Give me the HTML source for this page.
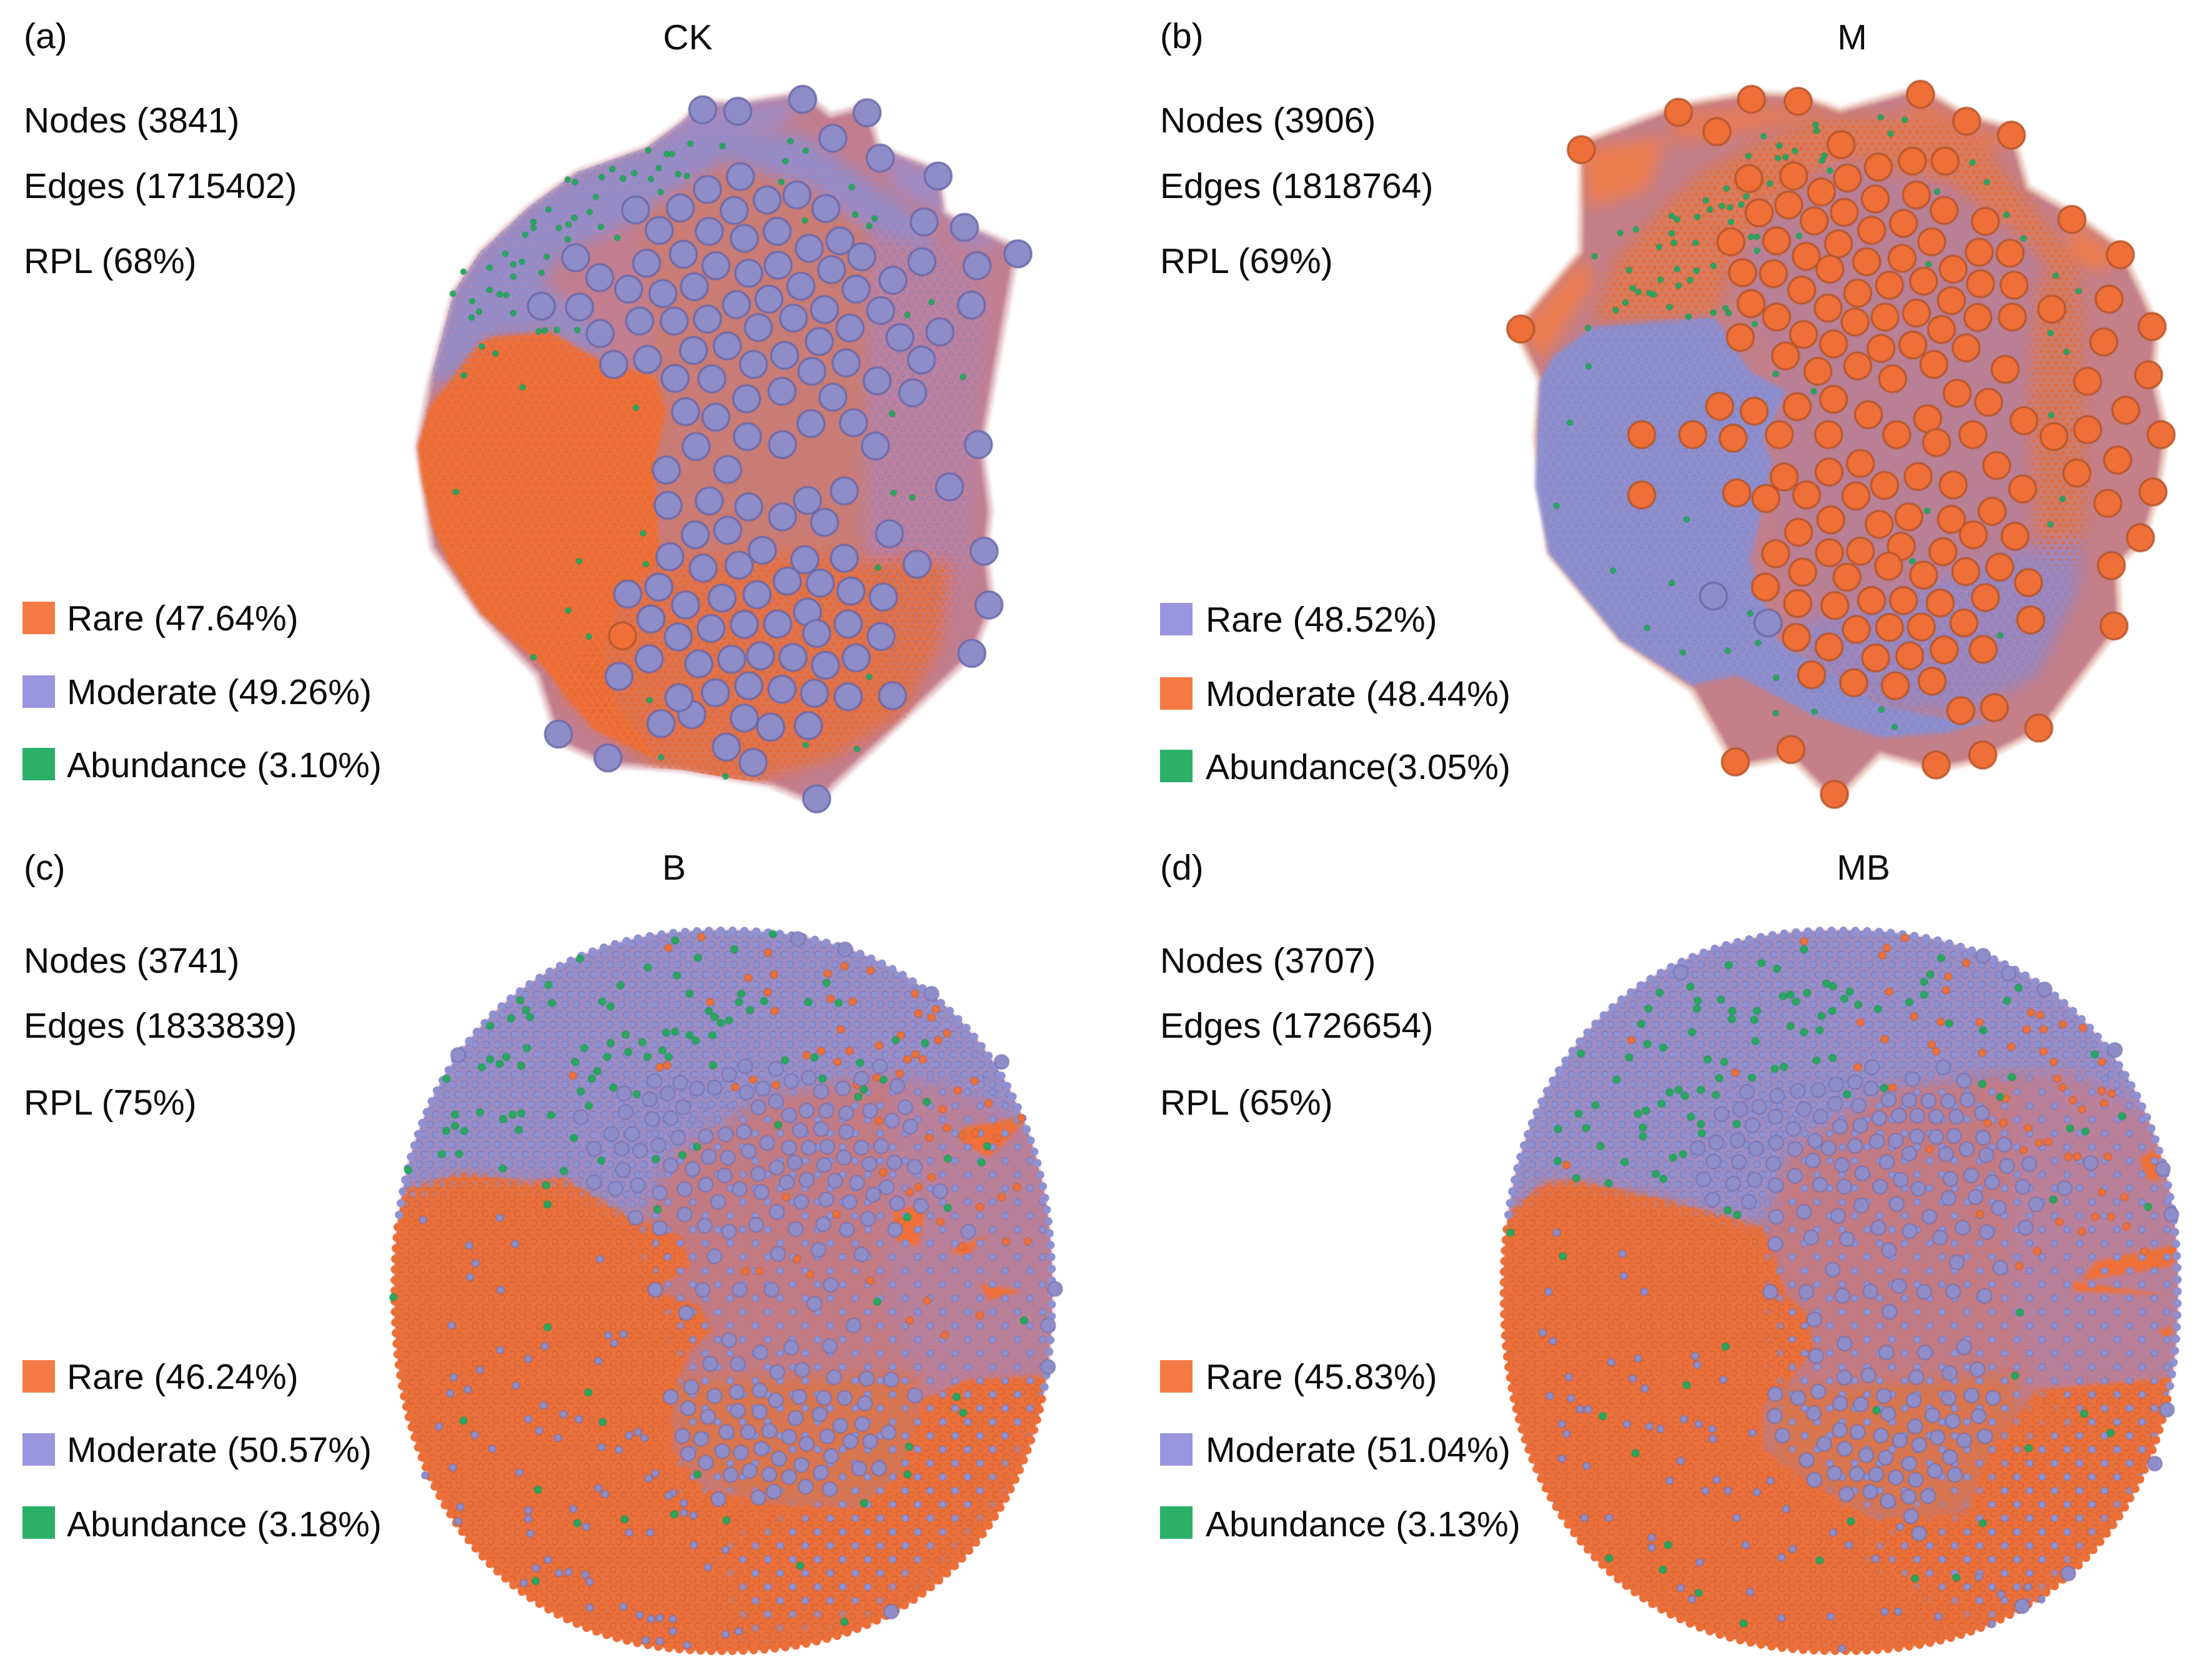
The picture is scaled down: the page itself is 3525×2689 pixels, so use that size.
<!DOCTYPE html>
<html lang="en">
<head>
<meta charset="utf-8">
<title>Co-occurrence networks CK, M, B, MB</title>
<style>
html,body{margin:0;padding:0;background:#fff;}
svg{display:block;}
text{font-family:"Liberation Sans",Arial,sans-serif;font-size:57px;fill:#0c0c0c;}
.rare{fill:#ee7038;stroke:#b6552a;}
.moderate{fill:#8f8dc8;stroke:#6a67a8;}
.abundant{fill:#26a95f;stroke:#1f8f50;}
</style>
</head>
<body>
<svg id="figure" xmlns="http://www.w3.org/2000/svg" width="3525" height="2689" viewBox="0 0 3525 2689">
  <defs>
    <filter id="soft" x="-5%" y="-5%" width="110%" height="110%"><feGaussianBlur stdDeviation="3"/></filter>
    <filter id="softWide" x="-10%" y="-10%" width="120%" height="120%"><feGaussianBlur stdDeviation="12"/></filter>
    <filter id="softMask" x="-10%" y="-10%" width="120%" height="120%"><feGaussianBlur stdDeviation="14"/></filter>
    <filter id="softer" x="-5%" y="-5%" width="110%" height="110%"><feGaussianBlur stdDeviation="0.7"/></filter>
    <pattern id="pat-mod" width="18" height="32" patternUnits="userSpaceOnUse">
      <circle cx="4.5" cy="8" r="5.6" fill="#8f91d0" stroke="#7d7cbc" stroke-width="1.2"/>
      <circle cx="13.5" cy="24" r="5.6" fill="#8f91d0" stroke="#7d7cbc" stroke-width="1.2"/>
    </pattern>
    <pattern id="pat-mod-sparse" width="40" height="44" patternUnits="userSpaceOnUse">
      <circle cx="9" cy="10" r="5.4" fill="#8f91d0" stroke="#7d7cbc" stroke-width="1.2"/>
      <circle cx="29" cy="32" r="5.4" fill="#8f91d0" stroke="#7d7cbc" stroke-width="1.2"/>
    </pattern>
    <pattern id="pat-rare" width="17" height="30" patternUnits="userSpaceOnUse">
      <circle cx="4.2" cy="7.5" r="5" fill="none" stroke="#c95c30" stroke-width="1.3" opacity="0.75"/>
      <circle cx="12.7" cy="22.5" r="5" fill="none" stroke="#c95c30" stroke-width="1.3" opacity="0.75"/>
    </pattern>
    <pattern id="pat-mod-fine" width="12" height="18" patternUnits="userSpaceOnUse">
      <circle cx="3" cy="4.5" r="2.6" fill="#8a8ccf"/>
      <circle cx="9" cy="13.5" r="2.6" fill="#8a8ccf"/>
    </pattern>
    <pattern id="pat-rare-fine" width="12" height="18" patternUnits="userSpaceOnUse">
      <circle cx="3" cy="4.5" r="2.4" fill="#e8682f"/>
      <circle cx="9" cy="13.5" r="2.4" fill="#e8682f"/>
    </pattern>
    <pattern id="pat-mod-ring" width="14" height="22" patternUnits="userSpaceOnUse">
      <circle cx="3.5" cy="5.5" r="3.2" fill="none" stroke="#7775b5" stroke-width="1" opacity="0.6"/>
      <circle cx="10.5" cy="16.5" r="3.2" fill="none" stroke="#7775b5" stroke-width="1" opacity="0.6"/>
    </pattern>
    <pattern id="pat-rare-ring" width="14" height="22" patternUnits="userSpaceOnUse">
      <circle cx="3.5" cy="5.5" r="3.2" fill="none" stroke="#c65a2e" stroke-width="1" opacity="0.6"/>
      <circle cx="10.5" cy="16.5" r="3.2" fill="none" stroke="#c65a2e" stroke-width="1" opacity="0.6"/>
    </pattern>
  </defs>

  <rect width="3525" height="2689" fill="#ffffff"/>

  <g id="net-a"></g>
  <g id="net-b"></g>
  <g id="net-c"></g>
  <g id="net-d"></g>

  <g>
    <text x="38" y="77">(a)</text>
    <text x="1101" y="79" text-anchor="middle">CK</text>
    <text x="38" y="212">Nodes (3841)</text>
    <text x="38" y="317">Edges (1715402)</text>
    <text x="38" y="437">RPL (68%)</text>
    <rect x="36" y="963" width="52" height="52" fill="#f47a45"/>
    <text x="107" y="1009">Rare (47.64%)</text>
    <rect x="36" y="1081" width="52" height="52" fill="#9b94de"/>
    <text x="107" y="1127">Moderate (49.26%)</text>
    <rect x="36" y="1197" width="52" height="52" fill="#2cb069"/>
    <text x="107" y="1244">Abundance (3.10%)</text>
  </g>

  <g>
    <text x="1857" y="77">(b)</text>
    <text x="2965" y="79" text-anchor="middle">M</text>
    <text x="1857" y="212">Nodes (3906)</text>
    <text x="1857" y="317">Edges (1818764)</text>
    <text x="1857" y="437">RPL (69%)</text>
    <rect x="1857" y="965" width="52" height="52" fill="#9b94de"/>
    <text x="1930" y="1011">Rare (48.52%)</text>
    <rect x="1857" y="1084" width="52" height="52" fill="#f47a45"/>
    <text x="1930" y="1130">Moderate (48.44%)</text>
    <rect x="1857" y="1200" width="52" height="52" fill="#2cb069"/>
    <text x="1930" y="1247">Abundance(3.05%)</text>
  </g>

  <g>
    <text x="38" y="1408">(c)</text>
    <text x="1079" y="1408" text-anchor="middle">B</text>
    <text x="38" y="1557">Nodes (3741)</text>
    <text x="38" y="1661">Edges (1833839)</text>
    <text x="38" y="1784">RPL (75%)</text>
    <rect x="36" y="2177" width="52" height="52" fill="#f47a45"/>
    <text x="107" y="2223">Rare (46.24%)</text>
    <rect x="36" y="2294" width="52" height="52" fill="#9b94de"/>
    <text x="107" y="2340">Moderate (50.57%)</text>
    <rect x="36" y="2411" width="52" height="52" fill="#2cb069"/>
    <text x="107" y="2459">Abundance (3.18%)</text>
  </g>

  <g>
    <text x="1857" y="1408">(d)</text>
    <text x="2983" y="1408" text-anchor="middle">MB</text>
    <text x="1857" y="1557">Nodes (3707)</text>
    <text x="1857" y="1661">Edges (1726654)</text>
    <text x="1857" y="1784">RPL (65%)</text>
    <rect x="1857" y="2177" width="52" height="52" fill="#f47a45"/>
    <text x="1930" y="2223">Rare (45.83%)</text>
    <rect x="1857" y="2294" width="52" height="52" fill="#9b94de"/>
    <text x="1930" y="2340">Moderate (51.04%)</text>
    <rect x="1857" y="2411" width="52" height="52" fill="#2cb069"/>
    <text x="1930" y="2459">Abundance (3.13%)</text>
  </g>
</svg>

<script>

/* ---------- CK ---------- */
const ckHull = [[700,118],[748,78],[828,82],[976,60],[1040,105],[1123,85],[1150,170],[1285,215],[1300,300],[1345,325],[1467,370],[1420,600],[1385,770],[1405,900],[1395,980],[1410,1090],[1362,1190],[1230,1300],[1050,1450],[1008,1490],[900,1450],[700,1420],[532,1410],[419,1365],[370,1230],[240,1110],[160,1010],[130,975],[97,770],[125,640],[180,460],[240,380],[350,290],[460,220],[620,170]];
const ckCoreZone = [[600,240],[900,180],[1200,340],[1330,500],[1360,800],[1300,1000],[1000,1000],[640,1000],[640,620]];
const ckPurpleZone = [[125,640],[180,460],[240,380],[350,290],[460,220],[620,170],[800,130],[980,150],[1210,290],[1290,380],[1120,330],[1000,250],[800,195],[660,270],[560,330],[430,380],[380,440],[500,530],[520,600],[400,540],[270,550],[170,640]];
const ckPurpleEdgeZone = [[700,118],[748,85],[828,88],[976,70],[920,130],[800,130],[620,170]];
const ckPurpleEdgeZone2 = [[1150,170],[1285,225],[1300,310],[1190,255]];
const ckPurpleEdgeZone3 = [[1300,300],[1345,325],[1440,372],[1340,370]];
const ckMixedZone = [[1130,300],[1300,370],[1400,480],[1370,760],[1360,1000],[1300,1150],[1210,1280],[1120,1100],[1120,800]];
const ckLowerZone = [[640,1000],[1000,980],[1100,1000],[1240,990],[1320,1010],[1290,1170],[1200,1310],[1050,1395],[820,1455],[640,1410],[420,1270],[530,1100]];
const ckRareZone = [[97,770],[125,690],[170,640],[240,560],[270,550],[400,540],[520,600],[640,630],[665,700],[640,800],[650,1000],[560,1080],[520,1180],[550,1290],[650,1400],[500,1340],[380,1210],[240,1105],[165,1000],[130,930],[105,830]];
const ckHubs = [[748,95],[828,98],[976,74],[1123,101],[1045,152],[1153,192],[1285,228],[1253,320],[1345,331],[1467,384],[1374,408],[1248,400],[1361,487],[1182,437],[1154,498],[1289,541],[1198,552],[1247,597],[1227,663],[1146,639],[1142,770],[1092,723],[1377,767],[1311,852],[1390,981],[1401,1089],[1362,1186],[1181,1271],[1155,1152],[1160,1073],[1237,1007],[1174,946],[1071,860],[834,229],[759,255],[895,276],[963,266],[1029,293],[595,296],[697,292],[820,297],[649,337],[763,339],[843,353],[918,339],[1061,358],[991,373],[1111,390],[458,392],[704,385],[620,403],[778,408],[853,423],[920,407],[1042,416],[513,432],[579,455],[729,450],[657,464],[972,449],[1098,455],[380,489],[467,491],[825,486],[899,475],[1026,496],[604,519],[683,519],[759,515],[955,513],[875,532],[1084,533],[514,544],[727,578],[804,569],[1014,560],[545,606],[622,596],[864,606],[935,588],[1075,603],[997,620],[685,634],[769,635],[929,660],[848,675],[1045,672],[709,701],[778,712],[850,751],[930,767],[995,725],[733,771],[665,818],[805,817],[669,889],[763,880],[853,892],[987,879],[930,912],[1026,923],[731,948],[805,939],[884,979],[673,992],[749,1015],[831,1009],[981,998],[1071,995],[941,1041],[1016,1045],[1086,1061],[648,1053],[577,1067],[709,1089],[792,1075],[872,1068],[987,1103],[630,1117],[767,1136],[843,1128],[919,1127],[1008,1146],[1080,1127],[692,1153],[626,1197],[739,1207],[814,1198],[880,1191],[954,1194],[1028,1210],[1098,1195],[557,1232],[853,1251],[929,1258],[1003,1266],[1080,1273],[723,1309],[694,1275],[777,1265],[653,1327],[843,1316],[903,1334],[989,1331],[802,1374],[863,1405],[419,1348],[532,1396],[1008,1478]];
const ckHubsOther = [[565,1151]];
const ckAbundant = [[624,176],[666,184],[678,184],[720,163],[793,168],[948,158],[983,177],[518,230],[542,214],[566,233],[592,222],[630,234],[648,212],[692,224],[712,228],[937,198],[927,240],[1088,250],[440,235],[457,240],[504,270],[652,260],[396,295],[490,300],[455,312],[362,320],[362,332],[420,332],[442,325],[516,330],[343,346],[440,355],[553,352],[392,390],[298,384],[336,400],[262,412],[316,405],[316,430],[380,422],[202,420],[178,464],[262,457],[285,465],[300,467],[222,479],[238,500],[316,503],[221,512],[374,540],[388,538],[415,537],[462,537],[244,570],[275,584],[203,628],[337,652],[596,693],[185,862],[612,945],[466,1001],[618,1007],[441,1100],[488,1152],[362,1194],[627,1280],[653,1395],[800,1433],[983,1370],[1100,1378],[1128,1233],[1148,1014],[1183,864],[1226,873],[1180,705],[1342,631],[1215,507],[1270,481],[981,317],[1096,305],[1140,313],[1128,328]];

/* ---------- M ---------- */
const mHull = [[183,160],[400,85],[563,60],[667,65],[760,95],[940,50],[1043,105],[1143,130],[1180,250],[1278,300],[1386,370],[1470,530],[1460,630],[1490,747],[1470,862],[1440,955],[1380,1010],[1385,1131],[1215,1336],[1079,1400],[975,1420],[850,1390],[748,1485],[651,1395],[527,1415],[430,1260],[270,1160],[110,985],[80,750],[90,640],[35,535],[180,380]];
const mCoreZone = [[480,330],[760,160],[1100,220],[1280,450],[1310,900],[1250,1150],[1000,1260],[700,1200],[620,1000],[620,620]];
const mRareTopZone = [[210,520],[260,400],[380,280],[460,220],[560,170],[700,120],[800,110],[950,110],[1070,160],[1180,280],[1280,400],[1300,500],[1180,360],[1000,240],[760,190],[600,290],[520,400],[480,510]];
const mRareRightZone = [[1280,400],[1300,500],[1310,900],[1290,1010],[1200,1000],[1180,700],[1200,440]];
const mPurpleZone = [[90,640],[120,590],[210,530],[480,510],[560,620],[640,660],[590,760],[610,800],[560,1000],[620,1160],[750,1230],[850,1290],[1020,1320],[1100,1320],[1000,1345],[850,1355],[700,1310],[530,1230],[430,1250],[270,1160],[110,985],[80,850]];
const mLowerMixZone = [[1000,1030],[1200,970],[1300,960],[1290,1060],[1200,1230],[1050,1300],[850,1300],[700,1210],[650,1130],[800,1100]];
const mWedgeA = [[183,175],[370,150],[330,255],[200,290]];
const mWedgeB = [[48,535],[190,390],[210,440],[95,600]];
const mWedgeC = [[400,100],[563,85],[667,90],[760,100],[640,125],[500,150],[380,160]];
const mWedgeD = [[1278,320],[1386,390],[1340,420],[1270,395]];
const mWedgeE = [[940,70],[1043,125],[1143,150],[1100,180],[900,110]];
const mHubs = [[183,175],[400,100],[563,74],[667,78],[940,64],[1043,118],[1143,146],[486,139],[763,165],[557,233],[657,228],[777,232],[846,210],[922,198],[995,198],[719,260],[839,274],[931,266],[646,286],[580,302],[770,301],[993,297],[703,318],[902,323],[1085,319],[1278,315],[517,360],[619,358],[831,337],[965,360],[757,364],[1386,386],[685,389],[1071,381],[1140,383],[543,422],[820,400],[899,393],[612,424],[738,415],[1013,415],[947,439],[871,447],[1074,444],[1149,447],[675,457],[800,463],[1361,475],[562,484],[734,493],[1009,478],[1233,495],[619,511],[794,521],[861,511],[931,503],[1068,512],[1145,511],[1457,530],[48,535],[538,552],[679,546],[987,536],[746,565],[852,574],[923,567],[1042,573],[1349,561],[639,589],[711,620],[800,609],[970,606],[878,635],[1129,616],[1449,627],[1313,640],[1022,664],[1092,682],[746,676],[665,691],[492,690],[569,700],[824,707],[956,715],[1171,719],[1398,698],[318,747],[432,747],[522,754],[625,747],[735,747],[887,747],[976,763],[1057,747],[1238,751],[1313,737],[1477,747],[806,805],[1380,798],[636,832],[736,822],[935,831],[1110,809],[1289,824],[860,849],[1013,848],[1168,856],[318,868],[530,864],[595,875],[686,868],[796,870],[1459,862],[1358,885],[914,912],[740,918],[848,927],[1009,917],[1100,901],[668,943],[1058,948],[1151,951],[1431,954],[617,986],[737,984],[806,981],[897,971],[990,982],[869,1011],[677,1023],[776,1033],[947,1029],[1041,1022],[1117,1013],[1366,1010],[594,1053],[1181,1044],[666,1086],[749,1090],[831,1080],[902,1080],[984,1085],[1085,1074],[797,1138],[871,1134],[942,1133],[1037,1125],[1186,1119],[1372,1131],[663,1154],[736,1173],[840,1195],[916,1191],[993,1179],[1080,1178],[697,1229],[791,1245],[884,1251],[966,1242],[1030,1301],[1105,1295],[1204,1336],[651,1379],[527,1404],[975,1410],[1079,1390],[748,1469]];
const mHubsOther = [[478,1071],[600,1125]];
const mAbundant = [[851,110],[905,115],[706,125],[708,137],[590,148],[873,143],[625,167],[622,192],[660,178],[556,188],[639,190],[725,187],[720,197],[1056,201],[604,243],[738,217],[507,253],[1088,240],[977,259],[551,269],[461,277],[470,295],[497,288],[515,291],[540,285],[1132,306],[270,342],[305,335],[385,308],[397,315],[442,310],[517,320],[385,343],[669,348],[1170,353],[562,350],[575,350],[357,370],[390,362],[438,362],[575,378],[213,389],[478,408],[440,418],[397,415],[290,417],[1242,428],[958,405],[360,436],[400,448],[426,437],[298,453],[310,461],[335,463],[345,466],[1293,459],[282,482],[260,497],[380,491],[422,510],[478,502],[505,493],[512,503],[570,525],[198,533],[1230,543],[1266,581],[199,610],[617,625],[702,660],[1232,708],[158,723],[128,890],[418,917],[955,900],[1257,876],[1230,927],[922,1001],[254,1020],[385,1045],[330,1135],[560,1106],[410,1184],[510,1181],[578,1165],[618,1235],[1118,1150],[617,1306],[703,1303],[853,1299],[882,1334]];

/* ---------- B ---------- */
const bEllipse = [795,780,750,730];
const bPurpleZone = [[0,620],[200,545],[350,560],[430,560],[520,600],[600,640],[680,500],[900,380],[1150,340],[1300,360],[1568,470],[1568,0],[0,0]];
const bRightZone = [[1180,350],[1450,320],[1568,560],[1568,950],[1450,1080],[1250,1000],[1160,800]];
const bCoreZone = [[620,400],[1200,350],[1300,900],[1100,1200],[700,1180],[700,900],[600,650]];
const bLowerCoreZone = [[680,960],[1250,950],[1230,1130],[1100,1220],[850,1205],[700,1120]];
const bRareZone = [[0,590],[200,540],[350,560],[430,550],[560,620],[700,670],[720,730],[640,780],[740,810],[770,860],[720,900],[680,990],[680,1100],[750,1180],[900,1210],[1100,1220],[1200,1150],[1250,1000],[1350,960],[1568,950],[1568,1568],[0,1568]];
const bLowerRightZone = [[1000,1220],[1250,1000],[1540,950],[1400,1220],[1150,1420],[850,1480],[800,1300]];
const bStreakA = [[1340,450],[1490,425],[1450,470],[1400,510],[1340,480]];
const bStreakB = [[1310,700],[1400,665],[1350,710]];
const bStreakC = [[1380,765],[1475,780],[1400,800]];
const bStreakD = [[1180,620],[1260,600],[1240,690],[1190,680]];
const bModerateLarge = [[638,355],[697,358],[775,368],[808,342],[845,325],[915,330],[950,355],[990,348],[735,370],[668,380],[627,392],[569,380],[703,408],[572,418],[633,432],[675,430],[470,428],[875,408],[915,396],[848,378],[885,370],[1018,376],[1068,370],[1110,350],[1152,325],[1192,365],[1130,415],[1075,420],[1030,415],[985,415],[945,424],[1210,408],[1180,435],[1222,447],[1075,458],[1018,452],[970,455],[895,480],[842,458],[800,463],[755,467],[692,470],[647,485],[605,496],[587,462],[540,462],[500,492],[563,492],[675,526],[725,533],[762,508],[805,510],[853,497],[945,490],[990,490],[1032,488],[1110,490],[1155,487],[1070,510],[1185,520],[1128,523],[1025,525],[958,520],[917,530],[875,543],[798,546],[755,565],[707,574],[650,582],[600,566],[566,535],[549,573],[500,560],[940,560],[985,555],[1050,557],[1100,561],[1168,570],[1232,529],[1290,578],[832,574],[882,580],[1030,595],[973,600],[783,600],[1083,600],[1137,585],[1192,603],[1246,608],[917,620],[707,625],[595,632],[650,653],[870,646],[808,660],[753,648],[960,655],[1023,645],[1077,656],[1125,634],[1187,656],[1354,660],[775,710],[920,705],[1012,697],[1110,706],[1040,768],[640,778],[748,778],[832,778],[905,778],[1003,806],[710,825],[1092,850],[808,880],[880,905],[950,895],[1038,892],[765,928],[828,928],[918,945],[975,940],[1048,955],[1122,958],[1178,960],[722,975],[775,993],[826,985],[878,982],[968,995],[1025,997],[1072,997],[675,995],[1118,1008],[1232,992],[715,1018],[760,1035],[828,1023],[878,1025],[915,1002],[960,1038],[1015,1030],[1062,1053],[1112,1050],[1172,1067],[702,1074],[744,1080],[802,1066],[852,1066],[900,1064],[945,1076],[985,1090],[1032,1075],[1085,1085],[1130,1085],[715,1110],[793,1105],[835,1108],[882,1100],[922,1120],[973,1133],[1041,1115],[1105,1140],[1150,1140],[755,1128],[855,1145],[900,1152],[812,1153],[945,1157],[1018,1148],[875,1199],[910,1187],[983,1177],[1038,1182],[784,1202],[1178,1430],[965,67],[1073,88],[1270,178],[1430,316],[190,302],[1552,776],[1536,850],[1536,934]];
const bModerateSmall = [[215,688],[320,685],[285,632],[230,724],[217,752],[514,716],[287,778],[110,636],[175,850],[388,892],[286,900],[240,940],[180,955],[212,980],[322,972],[172,988],[350,918],[510,922],[546,886],[567,868],[532,870],[385,1012],[430,1030],[350,1040],[465,1040],[146,1055],[228,1072],[268,1100],[375,1063],[418,1078],[517,1097],[557,1102],[580,1073],[600,1066],[615,1078],[178,1138],[115,1154],[330,1148],[510,1180],[525,1192],[625,1160],[640,1150],[350,1225],[350,1242],[453,1222],[482,1258],[355,1272],[628,1270],[580,1270],[195,1218],[190,1247],[395,1325],[442,1350],[480,1355],[420,1352],[490,1370],[368,1342],[340,1372],[490,1422],[567,1420],[604,1437],[650,1443],[680,1445],[630,1445],[618,1488],[650,1490],[712,1498],[680,1470],[800,1476],[830,1470],[760,1340],[800,1305],[728,1295],[705,1230],[705,1210],[727,1235],[680,1190],[670,1195]];
const bRareScatter = [[745,63],[670,85],[897,95],[1071,122],[1131,131],[1033,137],[911,139],[852,146],[765,195],[896,175],[1040,188],[1090,194],[912,213],[1232,178],[1280,209],[1270,226],[1240,218],[1063,250],[1305,258],[1285,272],[1200,262],[1150,283],[1018,294],[985,303],[1083,294],[1233,301],[1215,311],[1250,311],[650,327],[667,323],[452,344],[1055,316],[1145,348],[863,352],[822,367],[915,363],[1100,362],[1330,374],[1368,355],[1197,340],[1295,412],[1400,400],[1150,436],[1265,470],[1305,450],[1340,465],[1370,460],[1420,470],[1475,430],[1270,550],[1220,580],[1240,570],[1380,610],[1430,590],[1465,570],[1160,540],[1200,640],[1290,640],[1340,690],[1440,680],[1490,680],[1130,760],[1220,840],[1300,870],[1260,800],[1380,830],[938,590],[1053,625],[963,715],[993,747],[877,740],[845,740]];
const bAbundant = [[685,70],[908,57],[820,88],[737,105],[468,107],[623,125],[689,141],[1031,156],[396,160],[560,161],[718,178],[836,178],[519,194],[538,204],[332,191],[404,197],[831,195],[888,193],[989,195],[1058,197],[345,211],[354,225],[856,211],[762,213],[775,225],[789,237],[808,232],[263,243],[311,228],[665,257],[685,255],[718,262],[732,273],[770,262],[572,261],[538,278],[610,276],[347,288],[478,288],[1188,272],[1255,278],[578,296],[656,293],[670,306],[622,306],[300,306],[263,311],[285,320],[244,327],[334,324],[457,316],[530,306],[936,313],[1003,307],[1107,318],[772,323],[507,335],[495,350],[163,350],[1021,350],[1160,352],[544,368],[470,376],[1115,372],[1103,387],[597,382],[488,405],[1259,397],[183,423],[240,418],[334,420],[314,423],[293,432],[402,424],[328,454],[183,446],[163,456],[204,456],[454,470],[920,444],[735,488],[1397,487],[702,505],[153,503],[193,502],[517,516],[641,513],[1307,512],[1384,520],[292,532],[76,535],[431,537],[391,566],[394,605],[645,615],[1215,631],[1307,612],[42,793],[1146,802],[1481,840],[394,854],[487,986],[1327,995],[1342,1027],[202,1043],[520,1046],[1219,1096],[1215,1152],[736,1152],[372,1183],[1116,1210],[683,1233],[570,1243],[802,1245],[462,1251],[970,1337],[367,1368],[1071,1451]];

/* ---------- MB ---------- */
const dEllipse = [762,780,752,730];
const dPurpleZone = [[0,640],[100,560],[170,555],[350,590],[470,620],[590,650],[640,500],[850,370],[1100,340],[1280,330],[1568,480],[1568,0],[0,0]];
const dRightZone = [[1150,350],[1400,300],[1568,520],[1568,980],[1420,1100],[1200,980],[1130,800]];
const dCoreZone = [[600,380],[1150,340],[1270,800],[1100,1180],[850,1240],[640,1120],[620,900],[590,650]];
const dLowerCoreZone = [[600,980],[1150,950],[1150,1130],[1000,1240],[800,1230],[620,1130]];
const dRareZone = [[0,640],[100,560],[170,555],[350,590],[470,620],[590,650],[610,700],[640,790],[690,830],[700,900],[640,970],[590,1010],[590,1100],[680,1160],[830,1240],[1040,1230],[1100,1100],[1200,980],[1568,950],[1568,1568],[0,1568]];
const dLowerRightZone = [[1040,1240],[1150,1080],[1450,980],[1470,1130],[1300,1320],[1100,1460],[800,1300]];
const dStreakA = [[1430,510],[1480,485],[1470,560],[1440,550]];
const dStreakB = [[1330,720],[1520,685],[1500,730],[1300,760]];
const dStreakC = [[1280,760],[1500,790],[1280,780]];
const dStreakD = [[1470,860],[1510,850],[1490,880]];
const dModerateLarge = [[405,135],[1080,101],[1137,137],[1217,169],[1374,292],[832,327],[922,351],[991,327],[1037,354],[1500,625],[1481,533],[1490,1021],[1463,1130],[1270,1353],[1167,1419],[553,377],[620,385],[666,375],[712,373],[752,362],[794,357],[830,370],[496,422],[538,412],[580,407],[680,412],[717,427],[750,401],[802,405],[869,393],[915,394],[958,395],[1002,396],[1045,393],[1077,420],[1020,427],[975,427],[933,425],[892,425],[848,430],[806,445],[761,447],[656,452],[616,427],[565,445],[443,491],[484,479],[532,475],[573,492],[618,480],[660,493],[705,476],[735,491],[794,486],[843,477],[885,476],[932,467],[975,468],[1015,466],[1043,493],[1080,470],[1127,484],[478,518],[535,519],[612,522],[700,516],[765,525],[810,542],[865,519],[915,502],[997,503],[1087,505],[1133,527],[1183,523],[456,554],[522,563],[570,555],[617,566],[660,547],[716,565],[770,569],[850,569],[896,555],[935,573],[1007,553],[1053,546],[1100,560],[1168,569],[1262,572],[1320,521],[476,595],[557,600],[618,630],[680,620],[756,628],[808,607],[887,604],[960,630],[1003,592],[1063,590],[1115,612],[1198,605],[846,652],[916,659],[696,672],[776,675],[984,672],[1034,652],[1088,661],[1175,652],[616,685],[870,698],[744,737],[1021,722],[1118,733],[605,782],[685,782],[766,790],[828,781],[892,770],[948,782],[1013,781],[1083,790],[871,822],[703,838],[771,887],[864,905],[1037,894],[707,912],[950,905],[1067,939],[770,956],[824,951],[931,955],[1005,947],[712,984],[616,989],[667,997],[858,993],[807,1010],[925,1002],[1003,997],[1054,992],[1102,997],[615,1034],[702,1028],[761,1008],[868,1029],[967,1032],[1070,1034],[632,1073],[760,1062],[800,1066],[852,1073],[928,1055],[1012,1044],[894,1083],[978,1077],[1084,1075],[1038,1083],[725,1090],[771,1100],[819,1113],[862,1118],[937,1092],[1006,1117],[686,1123],[915,1130],[972,1145],[748,1150],[798,1151],[841,1152],[885,1158],[1017,1153],[703,1163],[929,1163],[775,1192],[828,1187],[914,1197],[957,1196],[867,1206],[919,1237],[937,1272]];
const dModerateSmall = [[128,662],[275,705],[110,782],[278,750],[324,782],[97,865],[120,882],[310,917],[437,912],[442,930],[250,925],[155,955],[500,960],[298,958],[325,978],[113,993],[160,998],[180,1020],[198,1020],[140,1050],[285,1050],[335,1055],[360,1060],[412,1040],[445,1050],[475,1060],[477,1080],[565,1068],[150,1070],[140,1120],[195,1135],[405,1125],[380,1165],[460,1185],[485,1163],[510,1185],[530,1240],[575,1188],[605,1165],[640,1222],[245,1240],[190,1240],[340,1280],[340,1300],[447,1330],[550,1295],[655,1303],[630,1320],[745,1270],[780,1295],[840,1323],[895,1258],[860,1430],[890,1430],[980,1440],[1070,1360],[1120,1395],[1180,1380],[1210,1405],[430,1405],[405,1382],[560,1390],[630,1443],[740,1440],[765,1505],[1100,1455]];
const dRareScatter = [[680,72],[905,65],[855,100],[865,85],[1002,143],[870,174],[997,171],[806,236],[926,224],[985,235],[1072,236],[1177,250],[1187,216],[1207,221],[1215,250],[1258,240],[1303,247],[860,270],[965,281],[975,295],[1078,298],[1143,285],[1215,295],[1237,316],[1345,316],[1245,350],[1257,368],[1345,375],[1280,394],[1300,412],[1350,400],[1367,380],[1130,390],[1180,450],[1170,495],[1205,480],[1225,478],[1270,508],[1290,508],[1358,508],[1345,580],[1395,590],[1365,630],[1330,630],[1072,625],[960,493],[295,272],[527,338],[150,525],[877,368],[800,327],[1042,116],[1090,440],[1125,440],[1250,640],[1200,700],[1160,730],[1300,660],[1400,650],[1440,700]];
const dAbundant = [[680,88],[512,120],[585,116],[620,127],[730,157],[745,163],[986,106],[962,139],[948,154],[1159,166],[358,176],[427,164],[443,192],[441,208],[495,190],[633,183],[650,180],[687,176],[662,194],[770,188],[782,174],[801,200],[845,209],[915,195],[948,180],[1133,192],[333,208],[520,213],[575,213],[569,231],[519,229],[743,213],[719,223],[317,239],[650,244],[680,256],[715,252],[1004,238],[1080,252],[430,256],[572,274],[182,299],[331,280],[366,287],[290,307],[465,311],[502,316],[708,313],[744,308],[1329,301],[615,330],[635,326],[262,352],[491,349],[564,348],[1144,347],[1078,361],[859,369],[380,378],[400,373],[414,385],[450,373],[483,383],[776,382],[1118,387],[215,404],[362,401],[177,421],[327,415],[309,421],[428,427],[450,442],[530,442],[1390,426],[131,452],[194,450],[321,449],[452,461],[321,467],[1274,451],[1308,457],[226,487],[410,503],[388,510],[130,517],[280,519],[349,543],[366,553],[172,552],[244,562],[1236,595],[1448,610],[510,617],[531,626],[25,662],[142,710],[1162,824],[505,893],[418,971],[842,1022],[1151,952],[231,1034],[304,1109],[1305,1029],[1364,1068],[1181,1099],[785,1247],[1079,1251],[377,1295],[245,1322],[715,1326],[365,1345],[928,1363],[1020,1361],[445,1392],[545,1454]];

/* ---------- axis functions: layout units to page ---------- */
function axis(origin, scale) { return function (v) { return origin + v / scale; }; }
const axisA = { x: axis(600, 1.425), y: axis(100, 1.254) };
const axisB = { x: axis(2400, 1.394), y: axis(100, 1.254) };
const axisC = { x: axis(600, 1.425), y: axis(1450, 1.266) };
const axisD = { x: axis(2400, 1.394), y: axis(1450, 1.266) };

const NS = 'http://www.w3.org/2000/svg';
const DISC_EXPONENT = 2.25;
let maskCount = 0;

function makeShape(parent, tag, name, attrs) {
  const el = document.createElementNS(NS, tag);
  
  
  Object.keys(attrs).forEach(function (k) { el.setAttribute(k, attrs[k]); });
  parent.appendChild(el);
  return el;
}
function makeGroup(parent, name, attrs) {
  return makeShape(parent, 'g', name, attrs || {});
}
function toPoints(ax, pts) {
  return pts.map(function (p) { return ax.x(p[0]).toFixed(1) + ',' + ax.y(p[1]).toFixed(1); }).join(' ');
}
function zone(parent, ax, pts, name, fill) {
  makeShape(parent, 'polygon', name, { points: toPoints(ax, pts), fill: fill });
}
/* small-node texture fading out softly at the edge of its region */
function texture(parent, ax, pts, name, pattern) {
  maskCount += 1;
  const id = 'tex-mask-' + maskCount;
  const defs = document.querySelector('defs');
  const mask = makeShape(defs, 'mask', name + '-mask', { id: id, maskUnits: 'userSpaceOnUse', x: 0, y: 0, width: 3525, height: 2689 });
  makeShape(mask, 'polygon', name + '-mask-shape', { points: toPoints(ax, pts), fill: '#ffffff', filter: 'url(#softMask)' });
  makeShape(parent, 'rect', name, { x: 0, y: 0, width: 3525, height: 2689, fill: 'url(#' + pattern + ')', mask: 'url(#' + id + ')' });
}
function nodes(parent, ax, list, name, cls, r, sw) {
  list.forEach(function (p) {
    makeShape(parent, 'circle', name, { cx: ax.x(p[0]).toFixed(1), cy: ax.y(p[1]).toFixed(1), r: r, 'class': cls, 'stroke-width': sw });
  });
}
/* outline of the force-layout disc: slightly squarer than an ellipse */
function discOutline(ax, e, a0, a1, closed) {
  const cx = ax.x(e[0]), cy = ax.y(e[1]);
  const rx = ax.x(e[0] + e[2]) - cx, ry = ax.y(e[1] + e[3]) - cy;
  const pw = 2 / DISC_EXPONENT;
  let d = '';
  for (let a = a0; a <= a1; a += 1.5) {
    const c = Math.cos(a * Math.PI / 180), s = Math.sin(a * Math.PI / 180);
    const px = cx + rx * Math.sign(c) * Math.pow(Math.abs(c), pw);
    const py = cy + ry * Math.sign(s) * Math.pow(Math.abs(s), pw);
    d += (d ? ' L' : 'M') + px.toFixed(1) + ' ' + py.toFixed(1);
  }
  return closed ? d + ' Z' : d;
}
function hullClip(key, ax, hull) {
  const clip = makeShape(document.querySelector('defs'), 'clipPath', key + '-hull-clip', { id: 'clip-' + key });
  makeShape(clip, 'polygon', key + '-hull-clip-shape', { points: toPoints(ax, hull) });
  return 'url(#clip-' + key + ')';
}

/* ---------- panel (a) CK ---------- */
(function () {
  const root = document.getElementById('net-a'), ax = axisA;
  const clip = hullClip('ck', ax, ckHull);
  const base = makeGroup(root, 'ck-edge-halo-group', { filter: 'url(#soft)' });
  makeShape(base, 'polygon', 'ck-edge-halo', { points: toPoints(ax, ckHull), fill: '#c27e90', stroke: '#e6c6cc', 'stroke-width': 8 });
  const clipped = makeGroup(root, 'ck-soft-regions-clip', { 'clip-path': clip });
  const wide = makeGroup(clipped, 'ck-soft-regions', { filter: 'url(#softWide)' });
  zone(wide, ax, ckCoreZone, 'ck-core-region', '#c97b74');
  zone(wide, ax, ckMixedZone, 'ck-right-region', '#bb82a0');
  zone(wide, ax, ckLowerZone, 'ck-lower-region', '#de7350');
  zone(wide, ax, ckPurpleZone, 'ck-upper-moderate-region', '#9a8bc3');
  zone(wide, ax, ckPurpleEdgeZone, 'ck-top-edge-fan', '#a08ac4');
  zone(wide, ax, ckPurpleEdgeZone2, 'ck-upper-right-edge-fan', '#a08ac4');
  zone(wide, ax, ckPurpleEdgeZone3, 'ck-right-edge-fan', '#a08ac4');
  const sharp = makeGroup(root, 'ck-rare-regions', { filter: 'url(#soft)' });
  zone(sharp, ax, ckRareZone, 'ck-rare-region', '#ee7038');
  const tex = makeGroup(root, 'ck-small-nodes', { 'clip-path': clip });
  texture(tex, ax, ckPurpleZone, 'ck-upper-small-nodes', 'pat-mod-fine');
  texture(tex, ax, ckMixedZone, 'ck-right-small-moderate', 'pat-mod-ring');
  texture(tex, ax, ckLowerZone, 'ck-lower-small-rare', 'pat-rare-fine');
  texture(tex, ax, ckRareZone, 'ck-rare-small-nodes', 'pat-rare-ring');
  const marks = makeGroup(root, 'ck-nodes', { filter: 'url(#softer)' });
  nodes(marks, ax, ckAbundant, 'ck-abundance-node', 'abundant', 4.5, 1);
  nodes(marks, ax, ckHubs, 'ck-moderate-hub', 'moderate', 21.5, 3);
  nodes(marks, ax, ckHubsOther, 'ck-rare-hub', 'rare', 21.5, 3);
})();

/* ---------- panel (b) M ---------- */
(function () {
  const root = document.getElementById('net-b'), ax = axisB;
  const clip = hullClip('m', ax, mHull);
  const base = makeGroup(root, 'm-edge-halo-group', { filter: 'url(#soft)' });
  makeShape(base, 'polygon', 'm-edge-halo', { points: toPoints(ax, mHull), fill: '#c47f88', stroke: '#eccac0', 'stroke-width': 8 });
  const clipped = makeGroup(root, 'm-soft-regions-clip', { 'clip-path': clip });
  const wide = makeGroup(clipped, 'm-soft-regions', { filter: 'url(#softWide)' });
  zone(wide, ax, mWedgeA, 'm-edge-fan-a', '#ec7d50');
  zone(wide, ax, mWedgeB, 'm-edge-fan-b', '#ec7d50');
  zone(wide, ax, mWedgeC, 'm-edge-fan-c', '#e37a5a');
  zone(wide, ax, mWedgeD, 'm-edge-fan-d', '#ec7d50');
  zone(wide, ax, mWedgeE, 'm-edge-fan-e', '#e37a5a');
  zone(wide, ax, mCoreZone, 'm-core-region', '#b97f95');
  zone(wide, ax, mRareTopZone, 'm-upper-region', '#d87a5c');
  zone(wide, ax, mRareRightZone, 'm-right-region', '#cf7a68');
  zone(wide, ax, mLowerMixZone, 'm-lower-region', '#9d87bd');
  const sharp = makeGroup(root, 'm-rare-regions', { filter: 'url(#soft)' });
  zone(sharp, ax, mPurpleZone, 'm-rare-region', '#8f8fce');
  const tex = makeGroup(root, 'm-small-nodes', { 'clip-path': clip });
  texture(tex, ax, mRareTopZone, 'm-upper-small-moderate', 'pat-rare-fine');
  texture(tex, ax, mRareRightZone, 'm-right-small-moderate', 'pat-rare-fine');
  texture(tex, ax, mLowerMixZone, 'm-lower-small-nodes', 'pat-mod-ring');
  texture(tex, ax, mPurpleZone, 'm-rare-small-nodes', 'pat-mod-ring');
  const marks = makeGroup(root, 'm-nodes', { filter: 'url(#softer)' });
  nodes(marks, ax, mAbundant, 'm-abundance-node', 'abundant', 4.5, 1);
  nodes(marks, ax, mHubs, 'm-moderate-hub', 'rare', 21.5, 3);
  nodes(marks, ax, mHubsOther, 'm-rare-hub', 'moderate', 21.5, 3);
})();

/* ---------- panels (c) B and (d) MB ---------- */
function drawDisc(rootId, ax, key, ell, z, large, small, scatter, abundant) {
  const root = document.getElementById(rootId);
  const clipId = 'clip-' + key;
  const defs = document.querySelector('defs');
  const clip = makeShape(defs, 'clipPath', key + '-disc-clip', { id: clipId });
  const outline = discOutline(ax, ell, 0, 360, true);
  makeShape(clip, 'path', key + '-disc-clip-shape', { d: outline });

  const base = makeGroup(root, key + '-edge-halo-group', { filter: 'url(#soft)' });
  makeShape(base, 'path', key + '-edge-halo', { d: outline, fill: '#c27a82' });
  const clipped = makeGroup(root, key + '-clipped-regions', { 'clip-path': 'url(#' + clipId + ')' });
  const wide = makeGroup(clipped, key + '-soft-regions', { filter: 'url(#softWide)' });
  zone(wide, ax, z.right, key + '-right-region', '#b9809a');
  zone(wide, ax, z.lowerCore, key + '-lower-core-region', '#d6744f');
  zone(wide, ax, z.purple, key + '-moderate-region', '#9d8cc2');
  const sharp = makeGroup(clipped, key + '-rare-regions', { filter: 'url(#soft)' });
  zone(sharp, ax, z.rare, key + '-rare-region', '#ea6f3a');
  z.streaks.forEach(function (s) { zone(sharp, ax, s, key + '-rare-streak', '#ee7038'); });

  const tex = makeGroup(root, key + '-small-nodes', { 'clip-path': 'url(#' + clipId + ')' });
  texture(tex, ax, z.purple, key + '-upper-small-moderate', 'pat-mod');
  texture(tex, ax, z.right, key + '-right-small-moderate', 'pat-mod-sparse');
  texture(tex, ax, z.core, key + '-core-small-moderate', 'pat-mod-sparse');
  texture(tex, ax, z.rare, key + '-rare-small-nodes', 'pat-rare');
  texture(tex, ax, z.lowerRight, key + '-lower-right-small-moderate', 'pat-mod-sparse');

  const rim = makeGroup(root, key + '-perimeter-nodes', {});
  makeShape(rim, 'path', key + '-rim-rare', { d: discOutline(ax, ell, 15, 190, false), fill: 'none', stroke: '#ec6f38', 'stroke-width': 13, 'stroke-linecap': 'round', 'stroke-dasharray': '0 17' });
  makeShape(rim, 'path', key + '-rim-moderate', { d: discOutline(ax, ell, 190, 375, false), fill: 'none', stroke: '#8f91d0', 'stroke-width': 13, 'stroke-linecap': 'round', 'stroke-dasharray': '0 19' });

  const marks = makeGroup(root, key + '-nodes', { filter: 'url(#softer)' });
  nodes(marks, ax, scatter, key + '-scattered-rare-node', 'rare', 6, 0.8);
  nodes(marks, ax, small, key + '-small-moderate-node', 'moderate', 5.8, 1);
  nodes(marks, ax, large, key + '-large-moderate-node', 'moderate', 11.5, 1.3);
  nodes(marks, ax, abundant, key + '-abundance-node', 'abundant', 5.8, 1);
}

drawDisc('net-c', axisC, 'b', bEllipse,
  { purple: bPurpleZone, right: bRightZone, core: bCoreZone, lowerCore: bLowerCoreZone, rare: bRareZone, lowerRight: bLowerRightZone, streaks: [bStreakA, bStreakB, bStreakC, bStreakD] },
  bModerateLarge, bModerateSmall, bRareScatter, bAbundant);

drawDisc('net-d', axisD, 'mb', dEllipse,
  { purple: dPurpleZone, right: dRightZone, core: dCoreZone, lowerCore: dLowerCoreZone, rare: dRareZone, lowerRight: dLowerRightZone, streaks: [dStreakA, dStreakB, dStreakC, dStreakD] },
  dModerateLarge, dModerateSmall, dRareScatter, dAbundant);
</script>
</body>
</html>
